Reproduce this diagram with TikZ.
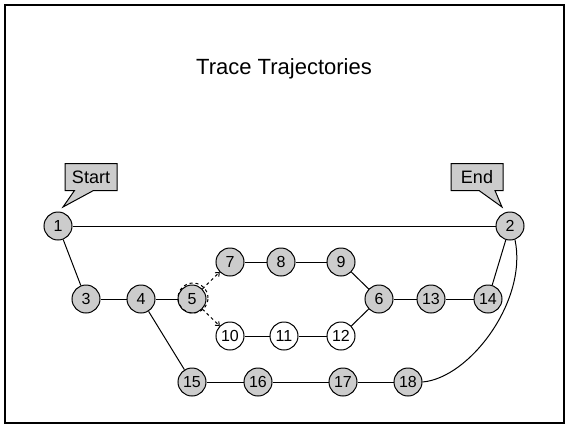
\documentclass[tikz,border=0pt]{standalone}
\usepackage{fontspec}
\setmainfont{Liberation Sans}
\usetikzlibrary{shapes.callouts,arrows.meta}
\begin{document}
\begin{tikzpicture}[x=1pt,y=-1pt,
  vtx/.style={circle,draw,line width=1pt,fill=gray!40,minimum size=28pt,inner sep=0pt,font=\fontsize{16}{18}\selectfont},
  wvtx/.style={vtx,fill=white},
  edge/.style={line width=1pt},
  darr/.style={line width=1pt,dashed,-{To[length=4pt,width=6pt]}},
  tag/.style={rectangle callout,draw,line width=1pt,fill=gray!40,minimum width=52pt,minimum height=27pt,inner sep=0pt,font=\fontsize{18}{20}\selectfont}]
\useasboundingbox (0,0) rectangle (566,424);
\draw[line width=2pt] (5,5) rectangle (564,423);
\node (title) at (284,69) {\fontsize{22}{24}\selectfont Trace Trajectories};
\node[vtx] (n1) at (58,226) {1};
\node[vtx] (n2) at (510,226) {2};
\node[vtx] (n3) at (86,299) {3};
\node[vtx] (n4) at (141,299) {4};
\node[vtx] (n5) at (192,299) {5};
\node[vtx] (n7) at (230,262) {7};
\node[vtx] (n8) at (281,262) {8};
\node[vtx] (n9) at (341,262) {9};
\node[vtx] (n6) at (379,299) {6};
\node[vtx] (n13) at (431,299) {13};
\node[vtx] (n14) at (488,299) {14};
\node[wvtx] (n10) at (230,336) {10};
\node[wvtx] (n11) at (284,336) {11};
\node[wvtx] (n12) at (341,336) {12};
\node[vtx] (n15) at (192,382) {15};
\node[vtx] (n16) at (258,382) {16};
\node[vtx] (n17) at (343,382) {17};
\node[vtx] (n18) at (408,382) {18};
\draw[line width=1pt,dashed] ([shift={(1,-1)}]n5.center) circle (15pt);
\node[tag,callout absolute pointer={(63,207)},callout pointer width=19pt] (start) at (91,177) {Start};
\node[tag,callout absolute pointer={(502,207)},callout pointer width=16pt] (end) at (477,177) {End};
\draw[edge] (n1) -- (n2);
\draw[edge] (n1) -- (n3);
\draw[edge] (n3) -- (n4);
\draw[edge] (n4) -- (n5);
\draw[edge] (n4) -- (n15);
\draw[darr] (n5) -- (n7);
\draw[darr] (n5) -- (n10);
\draw[edge] (n7) -- (n8);
\draw[edge] (n8) -- (n9);
\draw[edge] (n9) -- (n6);
\draw[edge] (n10) -- (n11);
\draw[edge] (n11) -- (n12);
\draw[edge] (n12) -- (n6);
\draw[edge] (n6) -- (n13);
\draw[edge] (n13) -- (n14);
\draw[edge] (n14) -- (n2);
\draw[edge] (n15) -- (n16);
\draw[edge] (n16) -- (n17);
\draw[edge] (n17) -- (n18);
\draw[edge] (n18.east) .. controls (470,378) and (528,300) .. (n2.-70);
\end{tikzpicture}
\end{document}
